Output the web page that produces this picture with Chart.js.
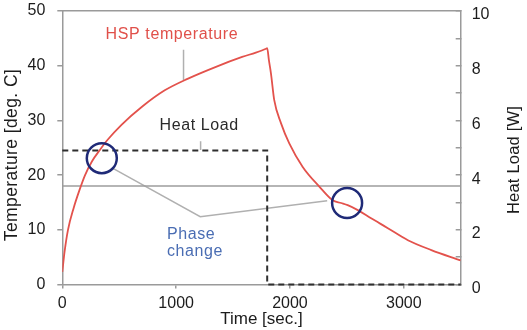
<!DOCTYPE html>
<html><head><meta charset="utf-8">
<script src="https://cdn.jsdelivr.net/npm/chart.js@4/dist/chart.umd.min.js"></script>
<style>html,body{margin:0;padding:0;background:#fff}#wrap{width:527px;height:330px}</style>
</head><body><div id="wrap"><canvas id="c" width="527" height="330"></canvas></div>
<script>
// ---- data ----
const hspTime = [0, 20, 50, 100, 150, 200, 260, 330, 400, 520, 700, 900, 1100, 1350, 1580, 1700, 1790, 1800,
                 1815, 1833, 1862, 1921, 1994, 2112, 2258, 2375, 2450, 2507, 2596, 2713, 2860, 3036, 3242, 3500];
const hspTemp = [2.3, 6.0, 10.0, 14.0, 17.2, 20.0, 22.5, 24.6, 26.5, 29.2, 32.5, 35.5, 37.6, 39.8, 41.6, 42.4, 43.1, 43.2,
                 41.0, 38.6, 33.7, 29.5, 25.8, 21.5, 17.9, 15.4, 14.9, 14.5, 13.6, 12.1, 10.3, 8.1, 6.3, 4.4];
const heatLoadTime = [0, 1800, 1800, 3500];
const heatLoadW = [4.9, 4.9, 0, 0];
const phaseChangeTemp = 18;
const phaseLineTime = [0, 3500];
const phaseCircleTime = [347, 2502];
const phaseCircleTemp = [23.1, 14.9];
const timeTicks = [0, 1000, 2000, 3000];
const tempTicks = [0, 10, 20, 30, 40, 50];
const loadTicks = [0, 1, 2, 3, 4, 5, 6, 7, 8, 9, 10];
// leader lines for the callouts (data units)
const hspLeaderTime = [1065, 1065], hspLeaderTemp = [42.9, 37.4];
const loadLeaderTime = [1215, 1215], loadLeaderTemp = [26.2, 24.6];
const phaseLeaderTime = [449, 1212, 2327], phaseLeaderTemp = [21.2, 12.4, 15.3];

const pts = (xs, ys) => xs.map((x, i) => ({x, y: ys[i]}));

const FONT = 'Liberation Sans';
const GRAY = '#9a9a9a';
const TXT = '#1c1c1c';

const callouts = [
  {text: 'HSP temperature', x: 963, y: 45.6, color: '#e0504a', align: 'center'},
  {text: 'Heat Load', x: 1202, y: 29.0, color: '#2a2a2a', align: 'center'},
  {text: 'Phase', x: 919, y: 9.2, color: '#4a6db3', align: 'left'},
  {text: 'change', x: 919, y: 6.0, color: '#4a6db3', align: 'left'}
];
// vertical axis titles (both read bottom-to-top in the reference)
const axisTitles = [
  {text: 'Temperature [deg. C]', size: 17.5, spacing: '0.4px', cx: 12, cy: 155},
  {text: 'Heat Load [W]', size: 16.5, spacing: '0.2px', cx: 514, cy: 160}
];

const calloutPlugin = {
  id: 'callouts',
  afterDatasetsDraw(chart) {
    const {ctx, scales} = chart;
    ctx.save();
    ctx.font = '16px "' + FONT + '"';
    ctx.textBaseline = 'middle';
    try { ctx.letterSpacing = '0.6px'; } catch (e) {}
    callouts.forEach(c => {
      ctx.fillStyle = c.color;
      ctx.textAlign = c.align;
      ctx.fillText(c.text, scales.x.getPixelForValue(c.x), scales.y.getPixelForValue(c.y));
    });
    ctx.restore();
    axisTitles.forEach(t => {
      ctx.save();
      ctx.font = t.size + 'px "' + FONT + '"';
      try { ctx.letterSpacing = t.spacing; } catch (e) {}
      ctx.fillStyle = TXT;
      ctx.textAlign = 'center';
      ctx.textBaseline = 'middle';
      ctx.translate(t.cx, t.cy);
      ctx.rotate(-Math.PI / 2);
      ctx.fillText(t.text, 0, 0);
      ctx.restore();
    });
  }
};

const setTicks = arr => (s => { s.ticks = arr.map(v => ({value: v})); });
const noPad = s => { s.paddingTop = 0; s.paddingBottom = 0; s.paddingLeft = 0; s.paddingRight = 0; };

new Chart(document.getElementById('c'), {
  type: 'scatter',
  data: {
    datasets: [
      {label: 'Phase change', data: pts(phaseCircleTime, phaseCircleTemp), yAxisID: 'y', showLine: false,
       pointRadius: 15, pointHoverRadius: 15, pointBorderColor: '#1f2a77', pointBorderWidth: 2.5,
       pointBackgroundColor: 'rgba(0,0,0,0)'},
      {label: 'HSP temperature', data: pts(hspTime, hspTemp), yAxisID: 'y', showLine: true,
       borderColor: '#e3524c', borderWidth: 1.8, pointRadius: 0, cubicInterpolationMode: 'monotone'},
      {label: 'Heat Load', data: pts(heatLoadTime, heatLoadW), yAxisID: 'y1', showLine: true,
       borderColor: '#2e2e2e', borderWidth: 2, borderDash: [6, 4], pointRadius: 0, tension: 0, clip: 4},
      {label: 'Phase change temperature', data: pts(phaseLineTime, [phaseChangeTemp, phaseChangeTemp]), yAxisID: 'y',
       showLine: true, borderColor: '#9c9c9c', borderWidth: 1.5, pointRadius: 0},
      {label: 'hsp leader', data: pts(hspLeaderTime, hspLeaderTemp), yAxisID: 'y', showLine: true,
       borderColor: '#b0b0b0', borderWidth: 1.5, pointRadius: 0},
      {label: 'load leader', data: pts(loadLeaderTime, loadLeaderTemp), yAxisID: 'y', showLine: true,
       borderColor: '#b0b0b0', borderWidth: 1.5, pointRadius: 0},
      {label: 'phase leader', data: pts(phaseLeaderTime, phaseLeaderTemp), yAxisID: 'y', showLine: true,
       borderColor: '#b0b0b0', borderWidth: 1.5, pointRadius: 0, tension: 0}
    ]
  },
  options: {
    responsive: false,
    devicePixelRatio: 1,
    animation: false,
    layout: {padding: 0, autoPadding: false},
    plugins: {legend: {display: false}, tooltip: {enabled: false}},
    scales: {
      x: {
        type: 'linear', position: 'bottom', min: 0, max: 3500,
        afterBuildTicks: setTicks(timeTicks),
        afterFit: s => { s.height = 45.5; noPad(s); },
        grid: {drawOnChartArea: false, drawTicks: true, tickLength: 4, color: GRAY, lineWidth: 1.5},
        border: {color: GRAY, width: 1.5},
        ticks: {font: {family: FONT, size: 16}, color: TXT, padding: 5, maxRotation: 0, callback: v => String(v)},
        title: {display: true, text: 'Time [sec.]', font: {family: FONT, size: 17}, color: TXT, padding: {top: 0, bottom: 0}}
      },
      x2: {
        type: 'linear', axis: 'x', position: 'top', min: 0, max: 3500,
        afterBuildTicks: s => { s.ticks = []; },
        afterFit: s => { s.height = 11; noPad(s); },
        grid: {drawOnChartArea: false, drawTicks: false, color: GRAY},
        border: {color: GRAY, width: 1.5},
        ticks: {display: false}
      },
      y: {
        type: 'linear', position: 'left', min: 0, max: 50,
        afterBuildTicks: setTicks(tempTicks),
        afterFit: s => { s.width = 62.3; noPad(s); },
        grid: {drawOnChartArea: false, drawTicks: true, tickLength: 5, color: GRAY, lineWidth: 1.5},
        border: {color: GRAY, width: 1.5},
        ticks: {font: {family: FONT, size: 16}, color: TXT, padding: 12, callback: v => String(v)},
        title: {display: false}
      },
      y1: {
        type: 'linear', position: 'right', min: 0, max: 10,
        afterBuildTicks: setTicks(loadTicks),
        afterFit: s => { s.width = 66.3; noPad(s); },
        grid: {drawOnChartArea: false, drawTicks: true, tickLength: -5, color: GRAY, lineWidth: 1.5},
        border: {color: GRAY, width: 1.5},
        ticks: {font: {family: FONT, size: 16}, color: TXT, padding: 16, labelOffset: 4,
                callback: v => (v % 2 === 0 ? String(v) : '')},
        title: {display: false}
      }
    }
  },
  plugins: [calloutPlugin]
});
</script></body></html>
